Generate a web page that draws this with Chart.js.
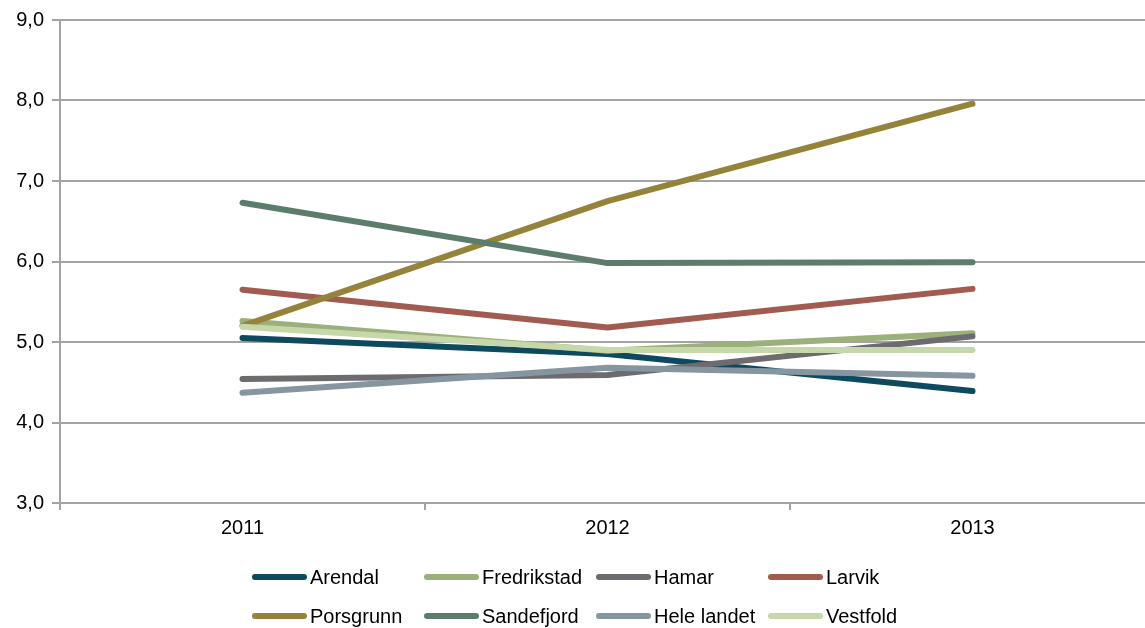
<!DOCTYPE html>
<html>
<head>
<meta charset="utf-8">
<script src="https://cdn.jsdelivr.net/npm/chart.js@4"></script>
<style>
  html, body { margin: 0; padding: 0; background: #fff; overflow: hidden; }
  #wrap { position: relative; width: 1145px; height: 628px; overflow: hidden; }
  #box { position: absolute; left: 0; top: 0; width: 1155px; height: 628px; }
  #legend { position: absolute; left: 252px; top: 565px; font: 20px "Liberation Sans", Arial, sans-serif; color: #000; }
  .lg-row { display: flex; height: 39px; }
  .lg-item { width: 172px; display: flex; align-items: center; height: 24px; white-space: nowrap; }
  .lg-line { width: 55px; height: 6px; border-radius: 3px; margin-right: 3px; flex: none; }
</style>
</head>
<body>
<div id="wrap">
  <div id="box"><canvas id="chart"></canvas></div>
  <div id="legend"></div>
</div>
<script>
  // kategorier og verdier lest av figuren
  const years = ['2011', '2012', '2013'];
  const arendal = [5.05, 4.85, 4.39];
  const fredrikstad = [5.26, 4.89, 5.11];
  const hamar = [4.54, 4.59, 5.07];
  const larvik = [5.65, 5.18, 5.66];
  const porsgrunn = [5.20, 6.75, 7.96];
  const sandefjord = [6.73, 5.98, 5.99];
  const heleLandet = [4.37, 4.68, 4.58];
  const vestfold = [5.19, 4.90, 4.90];
  const yTicks = [3, 4, 5, 6, 7, 8, 9];

  const series = [
    ['Arendal', arendal, '#0d4a5f'],
    ['Fredrikstad', fredrikstad, '#9bb07a'],
    ['Hamar', hamar, '#6d6b70'],
    ['Larvik', larvik, '#a15b51'],
    ['Porsgrunn', porsgrunn, '#95833a'],
    ['Sandefjord', sandefjord, '#5d7d6c'],
    ['Hele landet', heleLandet, '#8596a0'],
    ['Vestfold', vestfold, '#c6d7a9'],
  ];

  const FONT = { family: '"Liberation Sans", Arial, sans-serif', size: 20 };
  const GRID = '#a3a3a3';

  const datasets = series.map(([name, data, color], i) => ({
    label: name,
    data: data,
    borderColor: color,
    backgroundColor: color,
    borderWidth: 6,
    borderCapStyle: 'round',
    borderJoinStyle: 'round',
    pointRadius: 0,
    tension: 0,
    order: series.length - i, // senere serier tegnes oppå
  }));

  new Chart(document.getElementById('chart'), {
    type: 'line',
    data: { labels: years, datasets: datasets },
    options: {
      responsive: true,
      maintainAspectRatio: false,
      animation: false,
      layout: { padding: { top: 20, right: 0, bottom: 85, left: 0 } },
      plugins: { legend: { display: false }, tooltip: { enabled: false } },
      scales: {
        x: {
          offset: true,
          grid: { offset: true, drawOnChartArea: false, drawTicks: true, tickLength: 7, color: GRID, lineWidth: 2 },
          border: { color: GRID, width: 2 },
          ticks: { font: FONT, color: '#000', padding: 6 },
          afterFit: (s) => { s.height = 40; },
        },
        y: {
          min: 3,
          max: 9,
          afterBuildTicks: (s) => { s.ticks = yTicks.map((v) => ({ value: v })); },
          grid: { color: GRID, lineWidth: 2, tickLength: 8 },
          border: { color: GRID, width: 2 },
          ticks: {
            font: FONT,
            color: '#000',
            padding: 8,
            callback: (v) => v.toFixed(1).replace('.', ','),
          },
          afterFit: (s) => { s.width = 60; },
        },
      },
    },
  });

  // legende i to rader, fire kolonner
  const legendEl = document.getElementById('legend');
  for (let r = 0; r < 2; r++) {
    const row = document.createElement('div');
    row.className = 'lg-row';
    series.slice(r * 4, r * 4 + 4).forEach(([name, , color]) => {
      const item = document.createElement('div');
      item.className = 'lg-item';
      const line = document.createElement('span');
      line.className = 'lg-line';
      line.style.background = color;
      const txt = document.createElement('span');
      txt.textContent = name;
      item.appendChild(line);
      item.appendChild(txt);
      row.appendChild(item);
    });
    legendEl.appendChild(row);
  }
</script>
</body>
</html>
